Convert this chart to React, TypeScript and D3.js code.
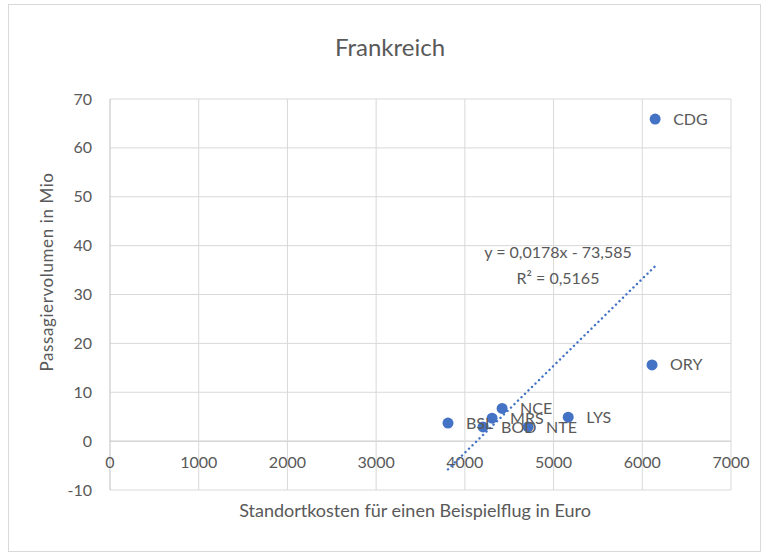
import React from "react";
import * as d3 from "d3";

const airports = ["CDG", "ORY", "LYS", "BSL", "BOD", "MRS", "NCE", "NTE"];
const costs = [6145, 6110, 5165, 3810, 4205, 4307, 4420, 4713];
const passengers = [65.9, 15.6, 4.9, 3.7, 2.9, 4.7, 6.7, 2.9];
const xTicks = [0, 1000, 2000, 3000, 4000, 5000, 6000, 7000];
const yTicks = [-10, 0, 10, 20, 30, 40, 50, 60, 70];
const trendSlope = 0.0178;
const trendIntercept = -73.585;
const title = "Frankreich";
const xTitle = "Standortkosten für einen Beispielflug in Euro";
const yTitle = "Passagiervolumen in Mio";
const eqLine1 = "y = 0,0178x - 73,585";
const eqLine2 = "R² = 0,5165";

const W = 769;
const H = 558;
const FONT = "Lato, 'Open Sans', sans-serif";
const TXT = "#595959";

export default function App() {
  const x = d3.scaleLinear().domain([0, 7000]).range([110, 731]);
  const y = d3.scaleLinear().domain([-10, 70]).range([490, 99]);
  const xMin = d3.min(costs) as number;
  const xMax = d3.max(costs) as number;
  const trend = d3
    .line<number>()
    .x((d) => x(d))
    .y((d) => y(trendSlope * d + trendIntercept));

  return (
    <svg
      width={W}
      height={H}
      style={{ position: "absolute", left: 0, top: 0, background: "#fff" }}
      fontFamily={FONT}
    >
      <rect x={8.5} y={4.5} width={752} height={547} fill="#fff" stroke="#d9d9d9" />
      {yTicks.map((t) => (
        <line key={"gy" + t} x1={x(0)} x2={x(7000)} y1={y(t)} y2={y(t)} stroke={t === 0 ? "#bfbfbf" : "#d9d9d9"} strokeWidth={1} />
      ))}
      {xTicks.map((t) => (
        <line key={"gx" + t} x1={x(t)} x2={x(t)} y1={y(70)} y2={y(-10)} stroke={t === 0 ? "#bfbfbf" : "#d9d9d9"} strokeWidth={1} />
      ))}
      {yTicks.map((t) => (
        <text key={"ty" + t} x={92} y={y(t)} dy="0.35em" textAnchor="end" fontSize={16} fill={TXT}>
          {t}
        </text>
      ))}
      {xTicks.map((t) => (
        <text key={"tx" + t} x={x(t)} y={y(0) + 21} dy="0.35em" textAnchor="middle" fontSize={16} fill={TXT}>
          {t}
        </text>
      ))}
      <path
        d={trend([xMin, xMax]) || ""}
        fill="none"
        stroke="#4472c4"
        strokeWidth={2.4}
        strokeDasharray="0.1 4.8"
        strokeLinecap="round"
      />
      {airports.map((a, i) => (
        <circle key={"c" + a} cx={x(costs[i])} cy={y(passengers[i])} r={5.5} fill="#4472c4" />
      ))}
      {airports.map((a, i) => (
        <text key={"l" + a} x={x(costs[i]) + 18} y={y(passengers[i])} dy="0.35em" fontSize={16} fill={TXT}>
          {a}
        </text>
      ))}
      <text x={558} y={252} dy="0.35em" textAnchor="middle" fontSize={16} fill={TXT}>
        {eqLine1}
      </text>
      <text x={558} y={278} dy="0.35em" textAnchor="middle" fontSize={16} fill={TXT}>
        {eqLine2}
      </text>
      <text x={390} y={48} dy="0.35em" textAnchor="middle" fontSize={24} fill={TXT}>
        {title}
      </text>
      <text x={415} y={511} dy="0.35em" textAnchor="middle" fontSize={18} fill={TXT}>
        {xTitle}
      </text>
      <text
        transform={`translate(47,${272}) rotate(-90)`}
        dy="0.35em"
        textAnchor="middle"
        fontSize={17}
        letterSpacing={0.6}
        fill={TXT}
      >
        {yTitle}
      </text>
    </svg>
  );
}
